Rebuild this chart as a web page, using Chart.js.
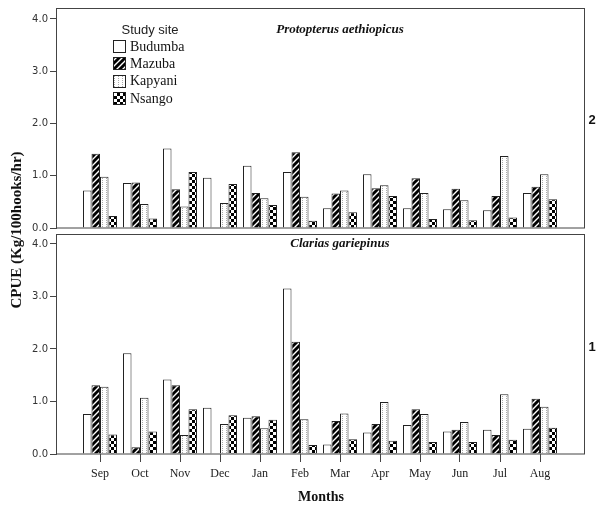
<!DOCTYPE html>
<html>
<head>
<meta charset="utf-8">
<script src="https://cdn.jsdelivr.net/npm/chart.js@4.4.0/dist/chart.umd.min.js"></script>
<style>
  body { margin: 0; background: #fff; }
  #wrap { position: relative; width: 596px; height: 513px; }
  canvas { position: absolute; left: 0; top: 0; }
</style>
</head>
<body>
<div id="wrap">
  <canvas id="topChart" width="596" height="513"></canvas>
  <canvas id="bottomChart" width="596" height="513"></canvas>
</div>
<script>
const months = ['Sep', 'Oct', 'Nov', 'Dec', 'Jan', 'Feb', 'Mar', 'Apr', 'May', 'Jun', 'Jul', 'Aug'];
const sites = ['Budumba', 'Mazuba', 'Kapyani', 'Nsango'];
const yTicks = [0, 1, 2, 3, 4];

// panel 2 - Protopterus aethiopicus
const protoBudumba = [0.72, 0.86, 1.52, 0.96, 1.19, 1.07, 0.38, 1.03, 0.38, 0.36, 0.34, 0.67];
const protoMazuba  = [1.42, 0.87, 0.74, null, 0.67, 1.45, 0.66, 0.76, 0.95, 0.75, 0.61, 0.79];
const protoKapyani = [0.98, 0.46, 0.41, 0.48, 0.57, 0.60, 0.72, 0.82, 0.67, 0.53, 1.38, 1.03];
const protoNsango  = [0.23, 0.18, 1.07, 0.84, 0.44, 0.14, 0.30, 0.61, 0.17, 0.15, 0.20, 0.55];

// panel 1 - Clarias gariepinus
const clariasBudumba = [0.76, 1.92, 1.42, 0.88, 0.69, 3.15, 0.18, 0.41, 0.55, 0.43, 0.46, 0.48];
const clariasMazuba  = [1.31, 0.13, 1.31, null, 0.72, 2.14, 0.63, 0.57, 0.85, 0.46, 0.36, 1.05];
const clariasKapyani = [1.28, 1.07, 0.36, 0.57, 0.49, 0.66, 0.77, 0.99, 0.76, 0.61, 1.14, 0.90];
const clariasNsango  = [0.37, 0.43, 0.85, 0.74, 0.65, 0.17, 0.28, 0.25, 0.23, 0.23, 0.27, 0.50];

// fill patterns like the SPSS ones
function makePattern(w, h, draw) {
  const c = document.createElement('canvas');
  c.width = w; c.height = h;
  const g = c.getContext('2d');
  draw(g);
  return g.createPattern(c, 'repeat');
}
const plain = '#ffffff';
const hatch = makePattern(6, 6, g => {
  g.fillStyle = '#000'; g.fillRect(0, 0, 6, 6);
  g.strokeStyle = '#fff'; g.lineWidth = 1.4;
  g.beginPath();
  g.moveTo(0, 6); g.lineTo(6, 0);
  g.moveTo(-1, 1); g.lineTo(1, -1);
  g.moveTo(5, 7); g.lineTo(7, 5);
  g.stroke();
});
const dots = makePattern(4, 2, g => {
  g.fillStyle = '#fff'; g.fillRect(0, 0, 4, 2);
  g.fillStyle = '#aaa'; g.fillRect(2, 0, 1, 1);
});
const checker = makePattern(6, 6, g => {
  g.fillStyle = '#fff'; g.fillRect(0, 0, 6, 6);
  g.fillStyle = '#000'; g.fillRect(0, 0, 3, 3); g.fillRect(3, 3, 3, 3);
});
const fills = [plain, hatch, dots, checker];

function makeSets(values) {
  return sites.map((name, k) => ({
    label: name,
    data: values[k].map((v, i) => ({ x: i, y: v })),
    backgroundColor: fills[k],
    borderColor: '#222',
    borderWidth: 1,
    categoryPercentage: 0.85,
    barPercentage: 1
  }));
}

function yScale(max) {
  return {
    min: 0, max: max,
    afterFit(s) { s.width = 57; },
    afterBuildTicks(s) { s.ticks = yTicks.map(v => ({ value: v })); },
    ticks: { color: '#333', font: { family: 'DejaVu Sans', size: 10 }, padding: 2, callback: v => v.toFixed(1) },
    grid: { drawOnChartArea: false, drawTicks: true, tickLength: 7, color: '#444' },
    border: { display: false }
  };
}

function xScale(show) {
  return {
    type: 'linear', min: -1.075, max: 12.125, offset: false, display: show,
    afterBuildTicks(s) { s.ticks = months.map((m, i) => ({ value: i })); },
    afterFit(s) { s.height = show ? 59 : 0; },
    ticks: { autoSkip: false, maxRotation: 0, color: '#222', font: { family: 'Liberation Serif', size: 12 }, padding: 5, callback: v => months[v] },
    grid: { offset: false, drawOnChartArea: false, tickLength: 8, color: '#444' },
    border: { display: false },
    title: { display: true, text: 'Months', color: '#111', font: { family: 'Liberation Serif', size: 14, weight: 'bold' }, padding: { top: 0, bottom: 7 } }
  };
}

const framePlugin = {
  id: 'frame',
  afterDatasetsDraw(chart) {
    const { ctx, chartArea: a } = chart;
    ctx.save();
    ctx.strokeStyle = '#444';
    ctx.lineWidth = 1;
    ctx.strokeRect(Math.round(a.left) - 0.5, Math.round(a.top) + 0.5, Math.round(a.right - a.left), Math.round(a.bottom - a.top) - 0.5);
    ctx.restore();
  }
};

function textPlugin(species, speciesY, panel, panelY) {
  return {
    id: 'texts',
    afterDraw(chart) {
      const ctx = chart.ctx;
      ctx.save();
      ctx.fillStyle = '#111';
      ctx.textAlign = 'center';
      ctx.textBaseline = 'middle';
      ctx.font = 'italic bold 13px "Liberation Serif"';
      ctx.fillText(species, 340, speciesY);
      ctx.font = 'bold 13px "Liberation Sans"';
      ctx.fillText(panel, 592, panelY);
      ctx.restore();
    }
  };
}

const legendPlugin = {
  id: 'siteLegend',
  afterDraw(chart) {
    const ctx = chart.ctx;
    ctx.save();
    ctx.fillStyle = '#222';
    ctx.textBaseline = 'middle';
    ctx.textAlign = 'center';
    ctx.font = '13px "Liberation Sans"';
    ctx.fillText('Study site', 150, 30);
    ctx.textAlign = 'left';
    ctx.font = '14px "Liberation Serif"';
    chart.data.datasets.forEach((ds, k) => {
      const y = 46 + k * 17.3;
      ctx.fillStyle = ds.backgroundColor;
      ctx.fillRect(113, Math.round(y - 6), 13, 13);
      ctx.strokeStyle = '#222';
      ctx.lineWidth = 1;
      ctx.strokeRect(113.5, Math.round(y - 6) + 0.5, 12, 12);
      ctx.fillStyle = '#111';
      ctx.fillText(ds.label, 130, y + 1);
    });
    ctx.restore();
  }
};

const axisTitlePlugin = {
  id: 'axisTitle',
  afterDraw(chart) {
    const ctx = chart.ctx;
    ctx.save();
    ctx.translate(17, 230);
    ctx.rotate(-Math.PI / 2);
    ctx.fillStyle = '#111';
    ctx.textAlign = 'center';
    ctx.textBaseline = 'middle';
    ctx.font = 'bold 15px "Liberation Serif"';
    ctx.fillText('CPUE (Kg/100hooks/hr)', 0, 0);
    ctx.restore();
  }
};

const common = {
  responsive: false,
  animation: false,
  devicePixelRatio: 1,
  plugins: { legend: { display: false }, tooltip: { enabled: false } }
};

new Chart(document.getElementById('topChart'), {
  type: 'bar',
  data: { datasets: makeSets([protoBudumba, protoMazuba, protoKapyani, protoNsango]) },
  options: Object.assign({}, common, {
    layout: { padding: { top: 7, right: 11, bottom: 285, left: 0 } },
    scales: { x: xScale(false), y: yScale(4.21) }
  }),
  plugins: [framePlugin, textPlugin('Protopterus aethiopicus', 30, '2', 120), legendPlugin]
});

new Chart(document.getElementById('bottomChart'), {
  type: 'bar',
  data: { datasets: makeSets([clariasBudumba, clariasMazuba, clariasKapyani, clariasNsango]) },
  options: Object.assign({}, common, {
    layout: { padding: { top: 234, right: 11, bottom: 0, left: 0 } },
    scales: { x: xScale(true), y: yScale(4.19) }
  }),
  plugins: [framePlugin, textPlugin('Clarias gariepinus', 244, '1', 347), axisTitlePlugin]
});
</script>
</body>
</html>
